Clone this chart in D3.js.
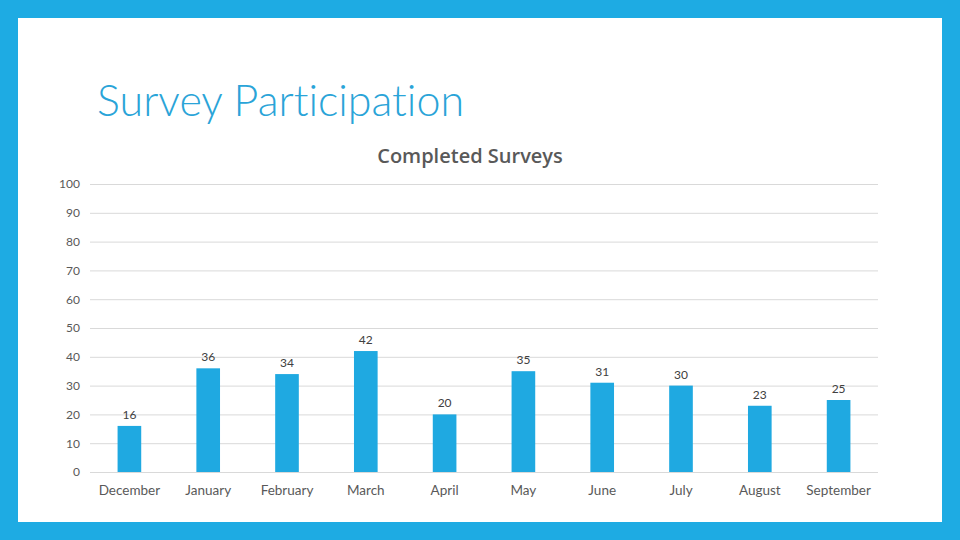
<!DOCTYPE html>
<html>
<head>
<meta charset="utf-8">
<script src="https://cdn.jsdelivr.net/npm/d3@7"></script>
<style>
  body { margin: 0; background: #1eabe3; }
  svg { display: block; }
  text { font-variant-ligatures: none; }
</style>
</head>
<body>
<svg id="chart"></svg>
<script>
const months = ['December', 'January', 'February', 'March', 'April', 'May', 'June', 'July', 'August', 'September'];
const completed = [16, 36, 34, 42, 20, 35, 31, 30, 23, 25];
const yTicks = [0, 10, 20, 30, 40, 50, 60, 70, 80, 90, 100];

const W = 960, H = 540;
const svg = d3.select('#chart').attr('width', W).attr('height', H);

// blue frame + white slide
svg.append('rect').attr('width', W).attr('height', H).attr('fill', '#1eabe3');
svg.append('rect').attr('x', 18).attr('y', 18).attr('width', 924).attr('height', 504).attr('fill', '#fff');

svg.append('text')
  .attr('x', 97).attr('y', 116)
  .attr('font-family', 'Lato, sans-serif').attr('font-weight', 300)
  .attr('font-size', 43).attr('fill', '#2aa4d8')
  .text('Survey Participation');

svg.append('text')
  .attr('x', 470).attr('y', 163)
  .attr('text-anchor', 'middle')
  .attr('font-family', '"Open Sans", sans-serif').attr('font-weight', 600).attr('font-size', 20)
  .attr('fill', '#595959')
  .text('Completed Surveys');

const x = d3.scaleBand().domain(months).range([90, 878]).paddingInner(0.7).paddingOuter(0.35);
const y = d3.scaleLinear().domain([0, 100]).range([472, 184]);

// gridlines
svg.append('g')
  .selectAll('line')
  .data(yTicks)
  .join('line')
  .attr('x1', 90).attr('x2', 878)
  .attr('y1', d => y(d) + 0.5).attr('y2', d => y(d) + 0.5)
  .attr('stroke', '#d9d9d9').attr('stroke-width', 1);

const yAxis = svg.append('g')
  .attr('transform', 'translate(80,0)')
  .call(d3.axisLeft(y).tickValues(yTicks).tickSize(0).tickPadding(0));
yAxis.select('.domain').remove();
yAxis.selectAll('text')
  .attr('font-family', 'Lato, sans-serif').attr('font-size', 12).attr('fill', '#595959');

const xAxis = svg.append('g')
  .attr('transform', 'translate(0,472)')
  .call(d3.axisBottom(x).tickSize(0).tickPadding(13));
xAxis.select('.domain').remove();
xAxis.selectAll('text')
  .attr('font-family', 'Lato, sans-serif').attr('font-size', 13.5).attr('fill', '#595959');

svg.append('g')
  .selectAll('rect')
  .data(completed)
  .join('rect')
  .attr('x', (d, i) => x(months[i]))
  .attr('y', d => y(d))
  .attr('width', x.bandwidth())
  .attr('height', d => y(0) - y(d))
  .attr('fill', '#1fa9e1');

svg.append('g')
  .selectAll('text')
  .data(completed)
  .join('text')
  .attr('x', (d, i) => x(months[i]) + x.bandwidth() / 2)
  .attr('y', d => y(d) - 7)
  .attr('text-anchor', 'middle')
  .attr('font-family', 'Lato, sans-serif').attr('font-size', 12)
  .attr('fill', '#404040')
  .text(d => d);
</script>
</body>
</html>
